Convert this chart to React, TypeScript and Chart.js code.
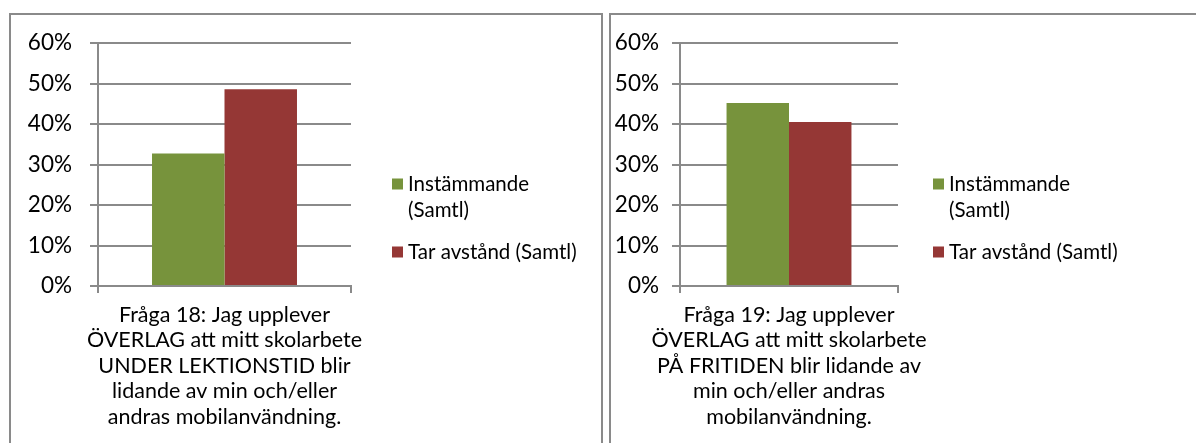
import React, { useEffect, useRef } from "react";
import { Chart, registerables } from "chart.js";

Chart.register(...registerables);

// ---- data ----
const seriesNames = ["Instämmande (Samtl)", "Tar avstånd (Samtl)"];
const legendLines = [["Instämmande", "(Samtl)"], ["Tar avstånd (Samtl)"]];
const seriesColors = ["#77933C", "#953735"];

const q18Label = [
  "Fråga 18: Jag upplever",
  "ÖVERLAG att mitt skolarbete",
  "UNDER LEKTIONSTID blir",
  "lidande av min och/eller",
  "andras mobilanvändning.",
];
const q18Values = [32.7, 48.6];

const q19Label = [
  "Fråga 19: Jag upplever",
  "ÖVERLAG att mitt skolarbete",
  "PÅ FRITIDEN blir lidande av",
  "min och/eller andras",
  "mobilanvändning.",
];
const q19Values = [45.2, 40.5];

const yMin = 0;
const yMax = 60;
const yStep = 10;

const FONT = "Lato, 'Open Sans', sans-serif";
const GRID = "#8a8a8a";

const sideLegend = {
  id: "sideLegend",
  afterDraw(chart: any, _args: any, opts: any) {
    const ctx = chart.ctx;
    ctx.save();
    ctx.font = `${opts.fontSize}px ${FONT}`;
    ctx.textBaseline = "middle";
    ctx.textAlign = "left";
    chart.data.datasets.forEach((ds: any, i: number) => {
      const cy = opts.rows[i];
      ctx.fillStyle = ds.backgroundColor;
      ctx.fillRect(opts.x, cy - opts.box / 2, opts.box, opts.box);
      ctx.fillStyle = "#000";
      opts.lines[i].forEach((line: string, j: number) => {
        ctx.fillText(line, opts.textX, cy + j * opts.lineHeight);
      });
    });
    ctx.restore();
  },
};

function makeConfig(
  label: string[],
  values: number[],
  geo: { yWidth: number; padRight: number; tickPad: number; legendX: number }
): any {
  return {
    type: "bar",
    data: {
      labels: [label],
      datasets: values.map((v, i) => ({
        label: seriesNames[i],
        data: [v],
        backgroundColor: seriesColors[i],
        borderWidth: 0,
        categoryPercentage: 0.573,
        barPercentage: 1,
      })),
    },
    plugins: [sideLegend],
    options: {
      responsive: false,
      animation: false,
      devicePixelRatio: 1,
      layout: { padding: { top: 43, right: geo.padRight, bottom: 0, left: 0 } },
      plugins: {
        legend: { display: false },
        tooltip: { enabled: false },
        sideLegend: {
          x: geo.legendX,
          textX: geo.legendX + 16,
          box: 11,
          rows: [184, 252],
          lines: legendLines,
          lineHeight: 26,
          fontSize: 20.5,
        },
      },
      scales: {
        x: {
          type: "category",
          offset: true,
          afterFit: (s: any) => {
            s.height = 157;
          },
          grid: {
            display: true,
            offset: true,
            drawOnChartArea: false,
            drawTicks: true,
            tickLength: 7,
            color: GRID,
            lineWidth: 2,
          },
          border: { display: true, color: GRID, width: 2 },
          ticks: {
            autoSkip: false,
            maxRotation: 0,
            minRotation: 0,
            padding: 9,
            color: "#000",
            font: { family: FONT, size: 21.5, lineHeight: 1.186 },
          },
        },
        y: {
          min: yMin,
          max: yMax,
          afterFit: (s: any) => {
            s.width = geo.yWidth;
          },
          grid: {
            color: GRID,
            lineWidth: 2,
            drawTicks: true,
            tickLength: 8,
          },
          border: { display: true, color: GRID, width: 2 },
          ticks: {
            stepSize: yStep,
            padding: geo.tickPad,
            color: "#000",
            font: { family: FONT, size: 22.5 },
            callback: (v: any) => `${v}%`,
          },
        },
      },
    },
  };
}

function ChartCanvas({ config, width, height, left }: any) {
  const ref = useRef<HTMLCanvasElement | null>(null);
  useEffect(() => {
    if (!ref.current) return;
    const chart = new Chart(ref.current, config);
    return () => chart.destroy();
  }, []);
  return (
    <canvas
      ref={ref}
      width={width}
      height={height}
      style={{ position: "absolute", left, top: 0, width, height }}
    />
  );
}

export default function App() {
  const cfg1 = makeConfig(q18Label, q18Values, {
    yWidth: 98,
    padRight: 600 - 351,
    tickPad: 18,
    legendX: 392,
  });
  const cfg2 = makeConfig(q19Label, q19Values, {
    yWidth: 80,
    padRight: 596 - 298,
    tickPad: 13,
    legendX: 333,
  });
  return (
    <div
      style={{
        position: "fixed",
        left: 0,
        top: 0,
        width: 1196,
        height: 443,
        overflow: "hidden",
        background: "#fff",
      }}
    >
      <div
        style={{
          position: "absolute",
          left: 9,
          top: 13,
          width: 594,
          height: 440,
          border: `2px solid ${GRID}`,
          boxSizing: "border-box",
        }}
      />
      <div
        style={{
          position: "absolute",
          left: 609,
          top: 13,
          width: 600,
          height: 440,
          border: `2px solid ${GRID}`,
          boxSizing: "border-box",
        }}
      />
      <ChartCanvas config={cfg1} width={600} height={443} left={0} />
      <ChartCanvas config={cfg2} width={596} height={443} left={600} />
    </div>
  );
}
